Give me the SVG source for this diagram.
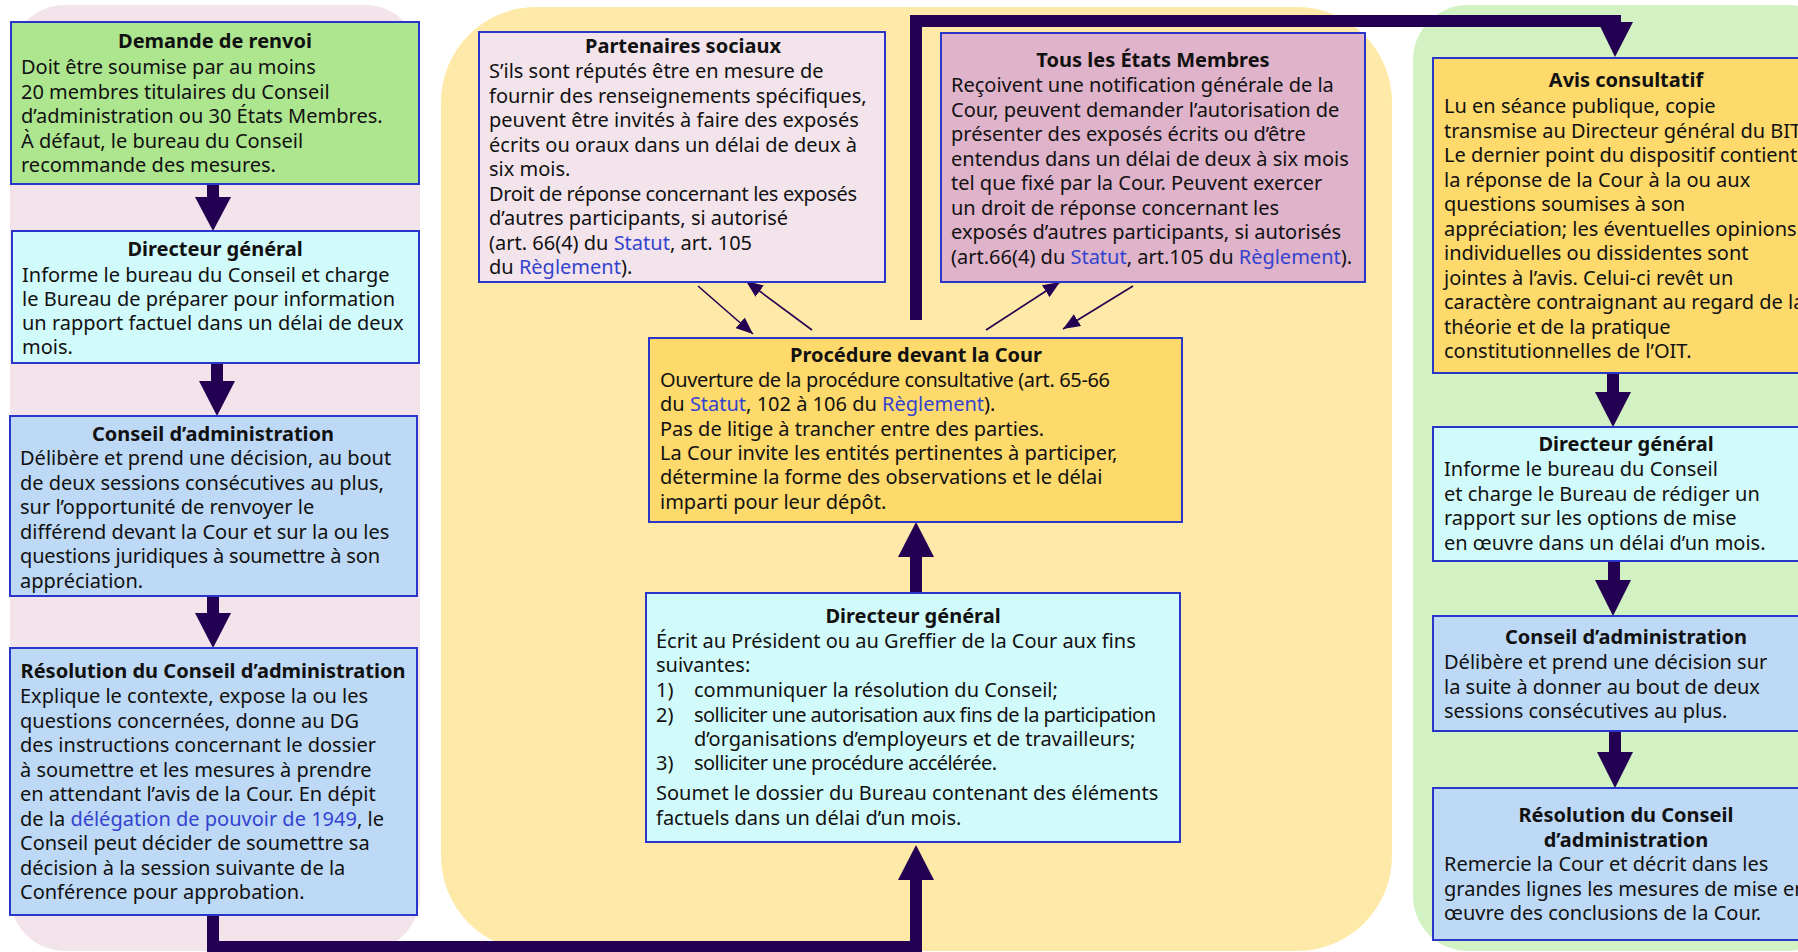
<svg xmlns="http://www.w3.org/2000/svg" width="1798" height="952" viewBox="0 0 1798 952">
<style>
text{font-family:"Noto Sans","Open Sans","DejaVu Sans",sans-serif;font-size:20px;fill:#111}
.t{font-weight:bold;text-anchor:middle}
.lk{fill:#3343cf}
.box{stroke:#2a35c9;stroke-width:2}
.green{fill:#aee690}.cyan{fill:#d1fbfb}.blue{fill:#bdd9f6}.gold{fill:#fed96b}.pinkb{fill:#f3e4ec}.mauve{fill:#dfb3ca}
.arr{fill:#240052}
.thick{fill:none;stroke:#240052;stroke-width:12;stroke-linejoin:miter}
.thin{fill:none;stroke:#240052;stroke-width:1.6}
</style>
<defs>
<marker id="ah" markerWidth="17" markerHeight="14" refX="17" refY="7" orient="auto" markerUnits="userSpaceOnUse"><path d="M0,0 L17,7 L0,14 z" fill="#240052"/></marker>
</defs>
<g id="backgrounds">
<rect x="10" y="5" width="410" height="946" rx="55" fill="#f3e4ec"/>
<rect x="441" y="7" width="951" height="944" rx="95" fill="#ffe9a9"/>
<rect x="1413" y="5" width="430" height="946" rx="55" fill="#d2f2c3"/>
</g>
<g id="connectors">
<rect class="arr" x="207" y="183" width="12" height="15"/><polygon class="arr" points="195,197 231,197 213,231"/>
<rect class="arr" x="211" y="362" width="12" height="20"/><polygon class="arr" points="199,381 235,381 217,416"/>
<rect class="arr" x="207" y="595" width="12" height="19"/><polygon class="arr" points="195,613 231,613 213,648"/>
<rect class="arr" x="1607" y="372" width="12" height="21"/><polygon class="arr" points="1595,392 1631,392 1613,427"/>
<rect class="arr" x="1608" y="560" width="12" height="21"/><polygon class="arr" points="1595,580 1631,580 1613,616"/>
<rect class="arr" x="1609" y="730" width="12" height="23"/><polygon class="arr" points="1597,752 1633,752 1615,788"/>
<path class="thick" style="stroke-linecap:square" d="M916,314 V21 H1615"/><polygon class="arr" points="1598,22 1633,22 1615,57"/>
<rect class="arr" x="910" y="556" width="12" height="38"/><polygon class="arr" points="898,557 934,557 916,522"/>
<path class="thick" d="M213,914 V947 H916 V879"/><polygon class="arr" points="898,880 934,880 916,845"/>
<path class="thin" marker-end="url(#ah)" d="M698,286 L753,334"/>
<path class="thin" marker-end="url(#ah)" d="M812,330 L746,281"/>
<path class="thin" marker-end="url(#ah)" d="M986,330 L1060,282"/>
<path class="thin" marker-end="url(#ah)" d="M1133,286 L1063,329"/>
</g>
<g id="n-demande">
<rect class="box green" x="11" y="22" width="408" height="162"/>
<text class="t" x="215" y="48">Demande de renvoi</text>
<text x="21" y="74">Doit être soumise par au moins</text>
<text x="21" y="98.5">20 membres titulaires du Conseil</text>
<text x="21" y="123">d’administration ou 30 États Membres.</text>
<text x="21" y="147.5">À défaut, le bureau du Conseil</text>
<text x="21" y="172">recommande des mesures.</text>
</g>
<g id="n-dg1">
<rect class="box cyan" x="12" y="231" width="407" height="132"/>
<text class="t" x="215" y="256">Directeur général</text>
<text x="22" y="282">Informe le bureau du Conseil et charge</text>
<text x="22" y="306">le Bureau de préparer pour information</text>
<text x="22" y="330">un rapport factuel dans un délai de deux</text>
<text x="22" y="354">mois.</text>
</g>
<g id="n-ca1">
<rect class="box blue" x="10" y="416" width="407" height="180"/>
<text class="t" x="213" y="441">Conseil d’administration</text>
<text x="20" y="465">Délibère et prend une décision, au bout</text>
<text x="20" y="489.5">de deux sessions consécutives au plus,</text>
<text x="20" y="514">sur l’opportunité de renvoyer le</text>
<text x="20" y="538.5">différend devant la Cour et sur la ou les</text>
<text x="20" y="563" textLength="360" lengthAdjust="spacing">questions juridiques à soumettre à son</text>
<text x="20" y="587.5">appréciation.</text>
</g>
<g id="n-res1">
<rect class="box blue" x="10" y="648" width="407" height="267"/>
<text class="t" x="213" y="678">Résolution du Conseil d’administration</text>
<text x="20" y="703">Explique le contexte, expose la ou les</text>
<text x="20" y="727.5">questions concernées, donne au DG</text>
<text x="20" y="752">des instructions concernant le dossier</text>
<text x="20" y="776.5">à soumettre et les mesures à prendre</text>
<text x="20" y="801">en attendant l’avis de la Cour. En dépit</text>
<text x="20" y="825.5">de la <tspan class="lk">délégation de pouvoir de 1949</tspan>, le</text>
<text x="20" y="850">Conseil peut décider de soumettre sa</text>
<text x="20" y="874.5">décision à la session suivante de la</text>
<text x="20" y="899">Conférence pour approbation.</text>
</g>
<g id="n-partenaires">
<rect class="box pinkb" x="479" y="32" width="406" height="250"/>
<text class="t" x="683" y="53">Partenaires sociaux</text>
<text x="489" y="78">S’ils sont réputés être en mesure de</text>
<text x="489" y="102.5">fournir des renseignements spécifiques,</text>
<text x="489" y="127">peuvent être invités à faire des exposés</text>
<text x="489" y="151.5">écrits ou oraux dans un délai de deux à</text>
<text x="489" y="176">six mois.</text>
<text x="489" y="200.5" textLength="368" lengthAdjust="spacing">Droit de réponse concernant les exposés</text>
<text x="489" y="225">d’autres participants, si autorisé</text>
<text x="489" y="249.5">(art. 66(4) du <tspan class="lk">Statut</tspan>, art. 105</text>
<text x="489" y="274">du <tspan class="lk">Règlement</tspan>).</text>
</g>
<g id="n-etats">
<rect class="box mauve" x="941" y="33" width="424" height="249"/>
<text class="t" x="1153" y="67">Tous les États Membres</text>
<text x="951" y="92">Reçoivent une notification générale de la</text>
<text x="951" y="116.5">Cour, peuvent demander l’autorisation de</text>
<text x="951" y="141">présenter des exposés écrits ou d’être</text>
<text x="951" y="165.5">entendus dans un délai de deux à six mois</text>
<text x="951" y="190">tel que fixé par la Cour. Peuvent exercer</text>
<text x="951" y="214.5">un droit de réponse concernant les</text>
<text x="951" y="239">exposés d’autres participants, si autorisés</text>
<text x="951" y="263.5">(art.66(4) du <tspan class="lk">Statut</tspan>, art.105 du <tspan class="lk">Règlement</tspan>).</text>
</g>
<g id="n-procedure">
<rect class="box gold" x="649" y="338" width="533" height="184"/>
<text class="t" x="916" y="362">Procédure devant la Cour</text>
<text x="660" y="387" textLength="450" lengthAdjust="spacing">Ouverture de la procédure consultative (art. 65-66</text>
<text x="660" y="411">du <tspan class="lk">Statut</tspan>, 102 à 106 du <tspan class="lk">Règlement</tspan>).</text>
<text x="660" y="436">Pas de litige à trancher entre des parties.</text>
<text x="660" y="460">La Cour invite les entités pertinentes à participer,</text>
<text x="660" y="484">détermine la forme des observations et le délai</text>
<text x="660" y="509">imparti pour leur dépôt.</text>
</g>
<g id="n-dg2">
<rect class="box cyan" x="646" y="593" width="534" height="249"/>
<text class="t" x="913" y="623">Directeur général</text>
<text x="656" y="648">Écrit au Président ou au Greffier de la Cour aux fins</text>
<text x="656" y="672">suivantes:</text>
<text x="656" y="697">1)</text><text x="694" y="697">communiquer la résolution du Conseil;</text>
<text x="656" y="722">2)</text><text x="694" y="722" textLength="462" lengthAdjust="spacing">solliciter une autorisation aux fins de la participation</text>
<text x="694" y="746">d’organisations d’employeurs et de travailleurs;</text>
<text x="656" y="770">3)</text><text x="694" y="770" textLength="303" lengthAdjust="spacing">solliciter une procédure accélérée.</text>
<text x="656" y="800">Soumet le dossier du Bureau contenant des éléments</text>
<text x="656" y="825">factuels dans un délai d’un mois.</text>
</g>
<g id="n-avis">
<rect class="box gold" x="1433" y="58" width="386" height="315"/>
<text class="t" x="1626" y="87">Avis consultatif</text>
<text x="1444" y="113">Lu en séance publique, copie</text>
<text x="1444" y="137.5">transmise au Directeur général du BIT</text>
<text x="1444" y="162">Le dernier point du dispositif contient</text>
<text x="1444" y="186.5">la réponse de la Cour à la ou aux</text>
<text x="1444" y="211">questions soumises à son</text>
<text x="1444" y="235.5">appréciation; les éventuelles opinions</text>
<text x="1444" y="260">individuelles ou dissidentes sont</text>
<text x="1444" y="284.5">jointes à l’avis. Celui-ci revêt un</text>
<text x="1444" y="309">caractère contraignant au regard de la</text>
<text x="1444" y="333.5">théorie et de la pratique</text>
<text x="1444" y="358">constitutionnelles de l’OIT.</text>
</g>
<g id="n-dg3">
<rect class="box cyan" x="1433" y="427" width="386" height="134"/>
<text class="t" x="1626" y="451">Directeur général</text>
<text x="1444" y="476">Informe le bureau du Conseil</text>
<text x="1444" y="500.5">et charge le Bureau de rédiger un</text>
<text x="1444" y="525">rapport sur les options de mise</text>
<text x="1444" y="549.5">en œuvre dans un délai d’un mois.</text>
</g>
<g id="n-ca2">
<rect class="box blue" x="1433" y="616" width="386" height="115"/>
<text class="t" x="1626" y="644">Conseil d’administration</text>
<text x="1444" y="669">Délibère et prend une décision sur</text>
<text x="1444" y="693.5">la suite à donner au bout de deux</text>
<text x="1444" y="718">sessions consécutives au plus.</text>
</g>
<g id="n-res2">
<rect class="box blue" x="1433" y="788" width="386" height="152"/>
<text class="t" x="1626" y="822">Résolution du Conseil</text>
<text class="t" x="1626" y="846.5">d’administration</text>
<text x="1444" y="871">Remercie la Cour et décrit dans les</text>
<text x="1444" y="895.5">grandes lignes les mesures de mise en</text>
<text x="1444" y="920">œuvre des conclusions de la Cour.</text>
</g>
</svg>
